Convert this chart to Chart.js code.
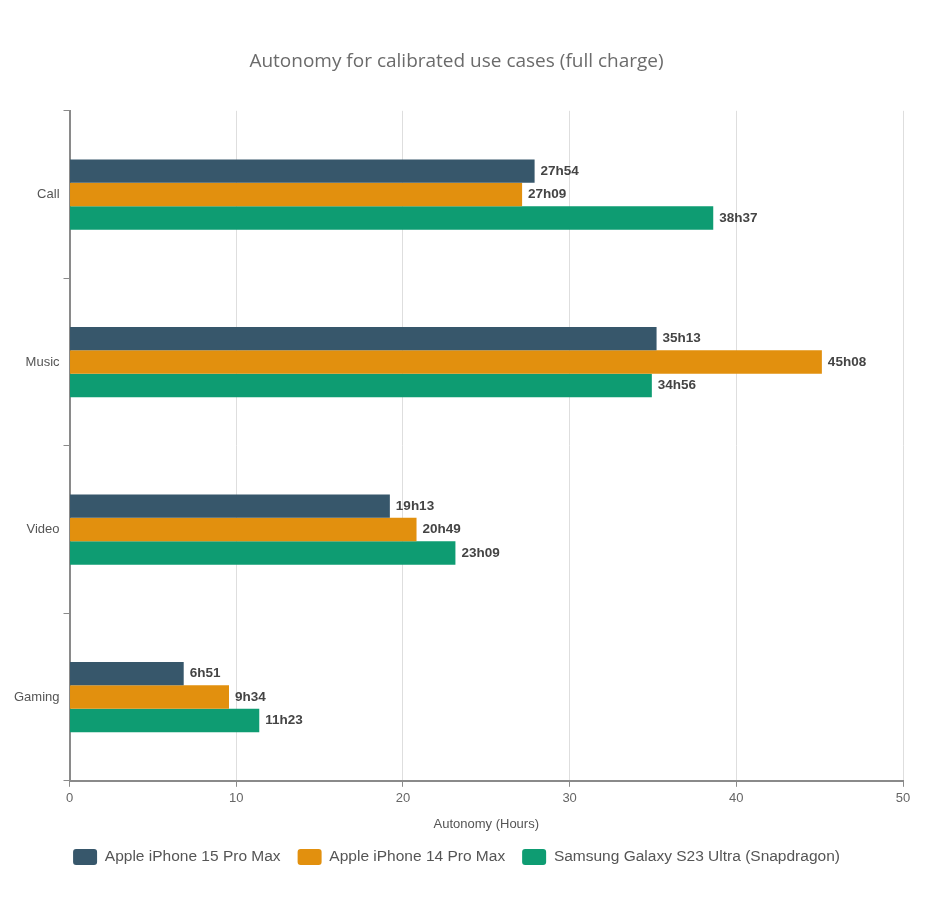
<!DOCTYPE html>
<html>
<head>
<meta charset="utf-8">
<script src="https://cdn.jsdelivr.net/npm/chart.js@4.4.1/dist/chart.umd.min.js"></script>
<style>
  body { margin: 0; background: #fff; }
  #wrap { width: 940px; height: 902px; }
</style>
</head>
<body>
<div id="wrap"><canvas id="autonomyChart" width="940" height="902"></canvas></div>
<script>
// Use cases and battery life (hours, from the "XhYY" labels)
const categories = ['Call', 'Music', 'Video', 'Gaming'];
const iphone15 = [27.9, 35.217, 19.217, 6.85];
const iphone14 = [27.15, 45.133, 20.817, 9.567];
const galaxyS23 = [38.617, 34.933, 23.15, 11.383];
const iphone15Labels = ['27h54', '35h13', '19h13', '6h51'];
const iphone14Labels = ['27h09', '45h08', '20h49', '9h34'];
const galaxyS23Labels = ['38h37', '34h56', '23h09', '11h23'];
const xTicks = [0, 10, 20, 30, 40, 50];

// draws the "27h54" labels just past the end of each bar
const barLabels = {
    id: 'barLabels',
    afterDatasetsDraw(chart) {
        const ctx = chart.ctx;
        ctx.save();
        ctx.font = '600 13.5px "Liberation Sans", Arial, sans-serif';
        ctx.fillStyle = '#444';
        ctx.textBaseline = 'middle';
        chart.data.datasets.forEach(function (ds, i) {
            chart.getDatasetMeta(i).data.forEach(function (bar, j) {
                ctx.fillText(ds.valueLabels[j], bar.x + 6, bar.y);
            });
        });
        ctx.restore();
    }
};

const ctx = document.getElementById('autonomyChart').getContext('2d');
const autonomyChart = new Chart(ctx, {
    type: 'bar',
    data: {
        labels: categories,
        datasets: [
            {
                label: 'Apple iPhone 15 Pro Max',
                data: iphone15,
                valueLabels: iphone15Labels,
                backgroundColor: '#37576b'
            },
            {
                label: 'Apple iPhone 14 Pro Max',
                data: iphone14,
                valueLabels: iphone14Labels,
                backgroundColor: '#e2900e'
            },
            {
                label: 'Samsung Galaxy S23 Ultra (Snapdragon)',
                data: galaxyS23,
                valueLabels: galaxyS23Labels,
                backgroundColor: '#0e9c72'
            }
        ]
    },
    options: {
        indexAxis: 'y',
        responsive: false,
        animation: false,
        layout: {
            padding: { left: 10, right: 37, top: 0, bottom: 27 }
        },
        datasets: {
            bar: { categoryPercentage: 0.42, barPercentage: 1.0 }
        },
        scales: {
            x: {
                min: 0,
                max: 50,
                afterBuildTicks: function (axis) {
                    axis.ticks = xTicks.map(function (v) { return { value: v }; });
                },
                border: { color: '#8a8a8a', width: 2 },
                grid: { color: '#dedede', tickLength: 6, tickColor: '#8a8a8a' },
                ticks: {
                    color: '#666',
                    font: { family: '"Liberation Sans", Arial, sans-serif', size: 13 },
                    padding: 4
                },
                title: {
                    display: true,
                    text: 'Autonomy (Hours)',
                    color: '#555',
                    font: { family: '"Liberation Sans", Arial, sans-serif', size: 13 },
                    padding: { top: 6, bottom: 0 }
                }
            },
            y: {
                border: { color: '#8a8a8a', width: 2 },
                grid: { drawOnChartArea: false, tickLength: 6, tickColor: '#8a8a8a' },
                ticks: {
                    color: '#555',
                    font: { family: '"Liberation Sans", Arial, sans-serif', size: 13 },
                    padding: 4
                }
            }
        },
        plugins: {
            title: {
                display: true,
                text: 'Autonomy for calibrated use cases (full charge)',
                color: '#6b6b6b',
                font: { family: '"Open Sans", sans-serif', size: 19, weight: '500' },
                padding: { top: 50, bottom: 38 }
            },
            legend: {
                position: 'bottom',
                align: 'center',
                labels: {
                    color: '#555',
                    boxWidth: 24,
                    boxHeight: 16,
                    useBorderRadius: true,
                    borderRadius: 3,
                    padding: 17,
                    font: { family: '"Liberation Sans", Arial, sans-serif', size: 15.5 }
                }
            },
            tooltip: { enabled: false }
        }
    },
    plugins: [barLabels]
});
</script>
</body>
</html>
